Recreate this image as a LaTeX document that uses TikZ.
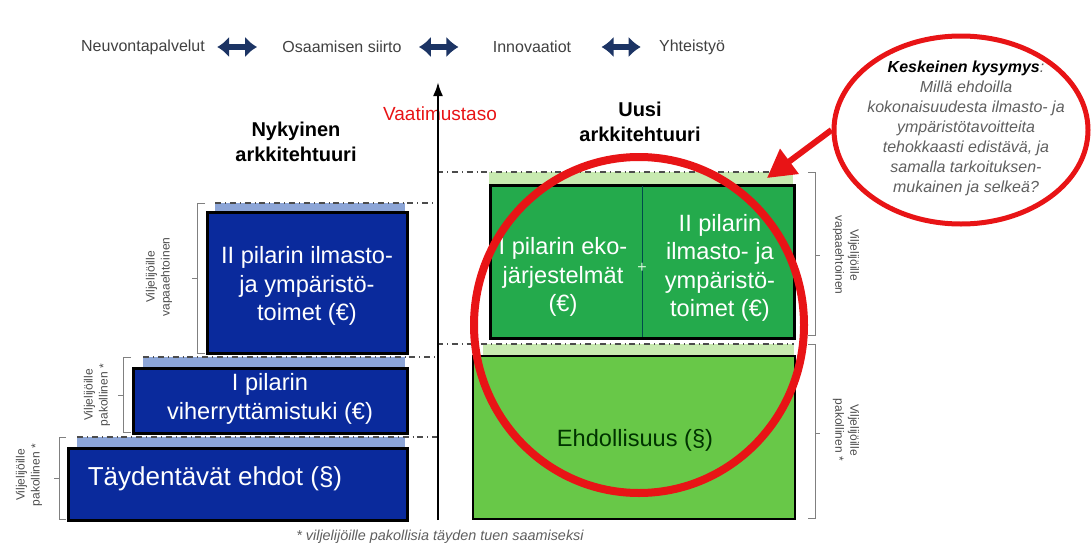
\documentclass[tikz,border=0pt]{standalone}
\usepackage{fontspec}
\setmainfont{Liberation Sans}
\usetikzlibrary{arrows.meta, shapes.geometric, calc, positioning}

\definecolor{boxblue}{RGB}{10,42,156}
\definecolor{stripblue}{RGB}{140,165,215}
\definecolor{boxgreen}{RGB}{36,170,76}
\definecolor{lightgreen}{RGB}{104,200,72}
\definecolor{stripgreen}{RGB}{200,234,176}
\definecolor{ringred}{RGB}{232,20,22}
\definecolor{navyarrow}{RGB}{28,52,100}
\definecolor{notegray}{RGB}{95,95,95}

\begin{document}
\begin{tikzpicture}[x=0.5pt, y=-0.5pt, >=latex,
  toptext/.style={font=\fontsize{8}{9.6}\selectfont, text=black!75, inner sep=0pt},
  navarrow/.style={{Latex[length=6pt,width=10.5pt]}-{Latex[length=6pt,width=10.5pt]}, line width=3.4pt, navyarrow},
  title/.style={font=\fontsize{10}{12.5}\selectfont\bfseries, align=center, inner sep=0pt},
  boxtext/.style={font=\fontsize{11.8}{14.2}\selectfont, align=center, text=white, inner sep=0pt},
  bluebox/.style={fill=boxblue, draw=black, line width=1.5pt},
  greenbox/.style={fill=boxgreen, draw=black, line width=1.5pt},
  lightbox/.style={fill=lightgreen, draw=black, line width=1.3pt},
  leveldash/.style={dash dot, black!70, line width=0.6pt},
  bracket/.style={gray, line width=0.5pt},
  sidetext/.style={font=\fontsize{6}{7.5}\selectfont, align=center, text=black!70, inner sep=0pt},
  ring/.style={ringred, line width=4pt},
  ringarrow/.style={-{Triangle[length=14pt,width=15pt]}, ringred, line width=3pt}]

  \useasboundingbox (0,0) rectangle (1092,546);

  % yhteistyon rivi
  \node[toptext] (neuvonta) at (143,47) {Neuvontapalvelut};
  \node[toptext] (osaaminen) at (342,47) {Osaamisen siirto};
  \node[toptext] (innovaatiot) at (532,47) {Innovaatiot};
  \node[toptext] (yhteistyo) at (692,47) {Yhteistyö};
  \draw[navarrow, shorten <=6pt, shorten >=12.5pt] (neuvonta) -- (osaaminen);
  \draw[navarrow, shorten <=8.5pt, shorten >=17pt] (osaaminen) -- (innovaatiot);
  \draw[navarrow, shorten <=15pt, shorten >=9pt] (innovaatiot) -- (yhteistyo);

  \node[title] (nykyinen) at (296,142) {Nykyinen\\arkkitehtuuri};
  \node[title] (uusi) at (640,122) {Uusi\\arkkitehtuuri};
  \node[font=\fontsize{9.5}{11}\selectfont, text=ringred, inner sep=0pt] (vaatimus) at (440,114) {Vaatimustaso};

  % nykyinen
  \fill[stripblue] (215,203) rectangle (405,212);
  \draw[bluebox] (207,212) rectangle (407,353);
  \node[boxtext] (ilmasto) at (307,286) {II pilarin ilmasto-\\ja ympäristö-\\toimet (€)};
  \fill[stripblue] (143,357) rectangle (405,368);
  \draw[bluebox] (133,368) rectangle (407,433);
  \node[boxtext] (viherryttaminen) at (270,399) {I pilarin\\viherryttämistuki (€)};
  \fill[stripblue] (77,437) rectangle (405,448);
  \draw[bluebox] (68,448) rectangle (407,520);
  \node[boxtext, font=\fontsize{13}{15}\selectfont] (taydentavat) at (215,479) {Täydentävät ehdot (§)};

  \draw[leveldash] (215,203) -- (437,203);
  \draw[leveldash] (143,357) -- (437,357);
  \draw[leveldash] (77,437) -- (437,437);

  \draw[bracket] (205,203) -- (197,203) -- (197,353) -- (205,353) (197,278) -- (192,278);
  \draw[bracket] (131,357) -- (123,357) -- (123,432) -- (131,432) (123,395) -- (118,395);
  \draw[bracket] (66,437) -- (59,437) -- (59,519) -- (66,519) (59,478) -- (54,478);
  \node[sidetext, rotate=90] (vapaa1) at (159,277) {Viljelijöille\\vapaaehtoinen};
  \node[sidetext, rotate=90] (pakko1) at (97,395) {Viljelijöille\\pakollinen *};
  \node[sidetext, rotate=90] (pakko2) at (29,475) {Viljelijöille\\pakollinen *};

  % uusi
  \fill[stripgreen] (489,172) rectangle (793,185);
  \draw[greenbox] (490,185) rectangle (794,338);
  \draw[teal!60!black, line width=0.5pt] (642,186) -- (642,337);
  \node[boxtext] (eko) at (563,277) {I pilarin eko-\\järjestelmät\\(€)};
  \node[boxtext] (ymparisto) at (720,268) {II pilarin\\ilmasto- ja\\ympäristö-\\toimet (€)};
  \node[boxtext, font=\fontsize{8}{9}\selectfont, text=white!85!green] (plus) at (642,268) {+};
  \fill[stripgreen] (483,344) rectangle (794,356);
  \draw[lightbox] (473,356) rectangle (795,519);
  \node[boxtext, text=black!80!green] (ehdollisuus) at (635,440) {Ehdollisuus (§)};

  \draw[leveldash] (437,172) -- (793,172);
  \draw[leveldash] (437,344) -- (794,344);

  \draw[bracket] (808,172) -- (815,172) -- (815,335) -- (808,335) (815,255) -- (820,255);
  \draw[bracket] (808,344) -- (815,344) -- (815,518) -- (808,518) (815,433) -- (820,433);
  \node[sidetext, rotate=-90] (vapaa2) at (846,255) {Viljelijöille\\vapaaehtoinen};
  \node[sidetext, rotate=-90] (pakko3) at (846,430) {Viljelijöille\\pakollinen *};

  \coordinate (axisfoot) at (438,520);
  \coordinate (axistop) at (438,82);
  \draw[-{Latex[length=7pt,width=5pt]}, line width=1.2pt] (axisfoot) -- (axistop);

  \draw[ring] (639,325) ellipse [x radius=82.5pt, y radius=84pt];

  % kysymys
  \node[ellipse, draw=ringred, line width=2.5pt, minimum width=127pt, minimum height=94pt, inner sep=0pt] (kysymys) at (961,130) {};
  \node[font=\fontsize{8}{10}\selectfont\itshape, text=notegray, align=center, inner sep=0pt] (kysymysteksti) at (966,128)
    {{\bfseries\color{black}Keskeinen kysymys}:\\Millä ehdoilla\\kokonaisuudesta ilmasto- ja\\ympäristötavoitteita\\tehokkaasti edistävä, ja\\samalla tarkoituksen-\\mukainen ja selkeä?};
  \coordinate (kohde) at (767,178);
  \draw[ringarrow] (kysymys.west) -- (kohde);

  \node[font=\fontsize{7.2}{8.6}\selectfont\itshape, text=notegray, inner sep=0pt] (alaviite) at (440,537) {* viljelijöille pakollisia täyden tuen saamiseksi};
\end{tikzpicture}
\end{document}
